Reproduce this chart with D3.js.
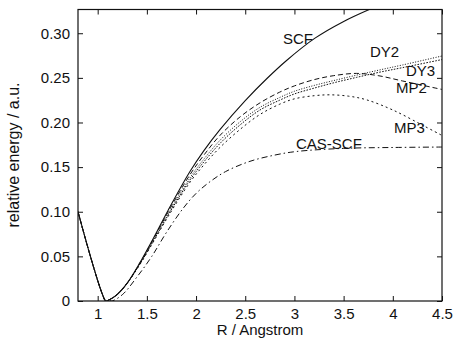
<!DOCTYPE html>
<html>
<head>
<meta charset="utf-8">
<script src="https://cdn.jsdelivr.net/npm/d3@7"></script>
<style>
  html, body { margin: 0; padding: 0; background: #fff; }
  svg { display: block; }
  text { font-family: "Liberation Sans", Arial, Helvetica, sans-serif; fill: #111; }
</style>
</head>
<body>
<svg id="chart" width="454" height="338"></svg>
<script>
// ---------- data (R in Angstrom, relative energy in a.u.) ----------
const scf = [[0.8,0.100],[0.9,0.060],[1.0,0.023],[1.05,0.007],[1.08,0.0],[1.12,0.0015],[1.2,0.0075],[1.3,0.020],[1.43,0.043],[1.565,0.070],[1.718,0.102],[1.938,0.145],[2.08,0.1685],[2.243,0.192],[2.5,0.2245],[2.718,0.249],[2.92,0.2695],[3.209,0.2945],[3.496,0.313],[3.8,0.3285]];
const dy2 = [[0.8,0.100],[0.9,0.060],[1.0,0.023],[1.05,0.007],[1.085,0.0],[1.12,0.0015],[1.2,0.0075],[1.3,0.020],[1.43,0.042],[1.565,0.068],[1.718,0.098],[1.938,0.138],[2.08,0.159],[2.243,0.180],[2.45,0.201],[2.65,0.217],[2.85,0.228],[3.0,0.235],[3.2,0.2415],[3.4,0.247],[3.63,0.253],[3.85,0.2585],[4.1,0.2645],[4.5,0.2745]];
const dy3 = [[0.8,0.100],[0.9,0.060],[1.0,0.023],[1.05,0.007],[1.085,0.0],[1.12,0.0015],[1.2,0.0075],[1.3,0.020],[1.43,0.0415],[1.565,0.067],[1.718,0.0965],[1.938,0.1355],[2.08,0.156],[2.243,0.1765],[2.45,0.1975],[2.65,0.214],[2.85,0.225],[3.0,0.232],[3.2,0.2385],[3.4,0.2445],[3.63,0.2505],[3.85,0.256],[4.1,0.2615],[4.5,0.2705]];
const mp2 = [[0.8,0.100],[0.9,0.060],[1.0,0.023],[1.05,0.007],[1.085,0.0],[1.12,0.0015],[1.2,0.0075],[1.3,0.020],[1.43,0.0425],[1.565,0.069],[1.718,0.100],[1.938,0.1415],[2.08,0.1635],[2.243,0.1855],[2.45,0.2065],[2.65,0.222],[2.85,0.234],[3.0,0.241],[3.2,0.248],[3.4,0.2525],[3.63,0.255],[3.85,0.2525],[4.1,0.2465],[4.5,0.237]];
const mp3 = [[0.8,0.100],[0.9,0.060],[1.0,0.023],[1.05,0.007],[1.085,0.0],[1.12,0.0015],[1.2,0.0075],[1.3,0.020],[1.43,0.041],[1.565,0.066],[1.718,0.095],[1.938,0.133],[2.08,0.1525],[2.243,0.172],[2.45,0.1925],[2.65,0.209],[2.85,0.2205],[3.0,0.2265],[3.2,0.230],[3.36,0.231],[3.55,0.2295],[3.73,0.2255],[4.0,0.214],[4.31,0.1965],[4.5,0.1855]];
const casscf = [[1.12,0.0015],[1.14,0.0],[1.25,0.007],[1.4,0.027],[1.55,0.050],[1.7,0.077],[1.87,0.104],[2.0,0.1205],[2.14,0.1335],[2.3,0.145],[2.548,0.1565],[2.8,0.1635],[3.02,0.1675],[3.5,0.171],[4.0,0.172],[4.5,0.1725]];

const seriesNames = ["SCF","DY2","DY3","MP2","MP3","CAS-SCF"];
const xTicks = [1, 1.5, 2, 2.5, 3, 3.5, 4, 4.5];
const yTicks = [0, 0.05, 0.10, 0.15, 0.20, 0.25, 0.30];
const xTitle = "R / Angstrom";
const yTitle = "relative energy / a.u.";

// ---------- layout ----------
const L = 78, R = 442, T = 9.5, B = 301;
const x = d3.scaleLinear().domain([0.8, 4.5]).range([L, R]);
const y = d3.scaleLinear().domain([0, 0.3266]).range([B, T]);

const svg = d3.select("#chart");
const defs = svg.append("defs");
defs.append("clipPath").attr("id","clip").append("rect")
  .attr("x", L).attr("y", T).attr("width", R - L).attr("height", B - T);

// ---------- curves ----------
const line = d3.line().x(d => x(d[0])).y(d => y(d[1])).curve(d3.curveCatmullRom.alpha(0.5));
const styles = [
  {data: scf,    dash: null,          w: 1.1},
  {data: dy2,    dash: "1,1.6",       w: 1.0},
  {data: dy3,    dash: "1.6,1.4",     w: 1.0},
  {data: mp2,    dash: "5,3",         w: 1.0},
  {data: mp3,    dash: "2,3",         w: 1.0},
  {data: casscf, dash: "6,3,1.5,3",   w: 1.0}
];
const g = svg.append("g").attr("clip-path", "url(#clip)");
styles.forEach(s => {
  g.append("path").attr("d", line(s.data))
    .attr("fill","none").attr("stroke","#111")
    .attr("stroke-width", s.w)
    .attr("stroke-dasharray", s.dash);
});

// ---------- axes (ticks inside, mirrored) ----------
const fs = 15;
const yFmt = d => d === 0 ? "0" : d3.format(".2f")(d);
const ax = (sel) => { sel.select(".domain").remove(); sel.selectAll("line").attr("stroke","#111").attr("stroke-width",1); sel.selectAll("text").attr("font-size", fs).attr("font-family", null).attr("fill","#111"); };

svg.append("g").attr("transform", `translate(0,${B})`)
  .call(d3.axisBottom(x).tickValues(xTicks).tickSize(-5).tickPadding(7).tickFormat(d3.format(""))).call(ax);
svg.append("g").attr("transform", `translate(0,${T})`)
  .call(d3.axisTop(x).tickValues(xTicks).tickSize(-5).tickFormat("")).call(ax);
svg.append("g").attr("transform", `translate(${L},0)`)
  .call(d3.axisLeft(y).tickValues(yTicks).tickSize(-5).tickPadding(8).tickFormat(yFmt)).call(ax);
svg.append("g").attr("transform", `translate(${R},0)`)
  .call(d3.axisRight(y).tickValues(yTicks).tickSize(-5).tickFormat("")).call(ax);

svg.append("rect").attr("x", L).attr("y", T).attr("width", R - L).attr("height", B - T)
  .attr("fill","none").attr("stroke","#111").attr("stroke-width",1.2);

// ---------- titles ----------
svg.append("text").attr("x", (L + R) / 2).attr("y", 334.5).attr("text-anchor","middle")
  .attr("font-size", 15).text(xTitle);
svg.append("text").attr("transform", "translate(19,155) rotate(-90)").attr("text-anchor","middle")
  .attr("font-size", 16).text(yTitle);

// ---------- curve labels ----------
const labelPos = [[283,43.5],[370,57],[406,76],[396,93],[394,133],[296,149]];
seriesNames.forEach((n, i) => {
  svg.append("text").attr("x", labelPos[i][0]).attr("y", labelPos[i][1])
    .attr("font-size", 15).text(n);
});
</script>
</body>
</html>
